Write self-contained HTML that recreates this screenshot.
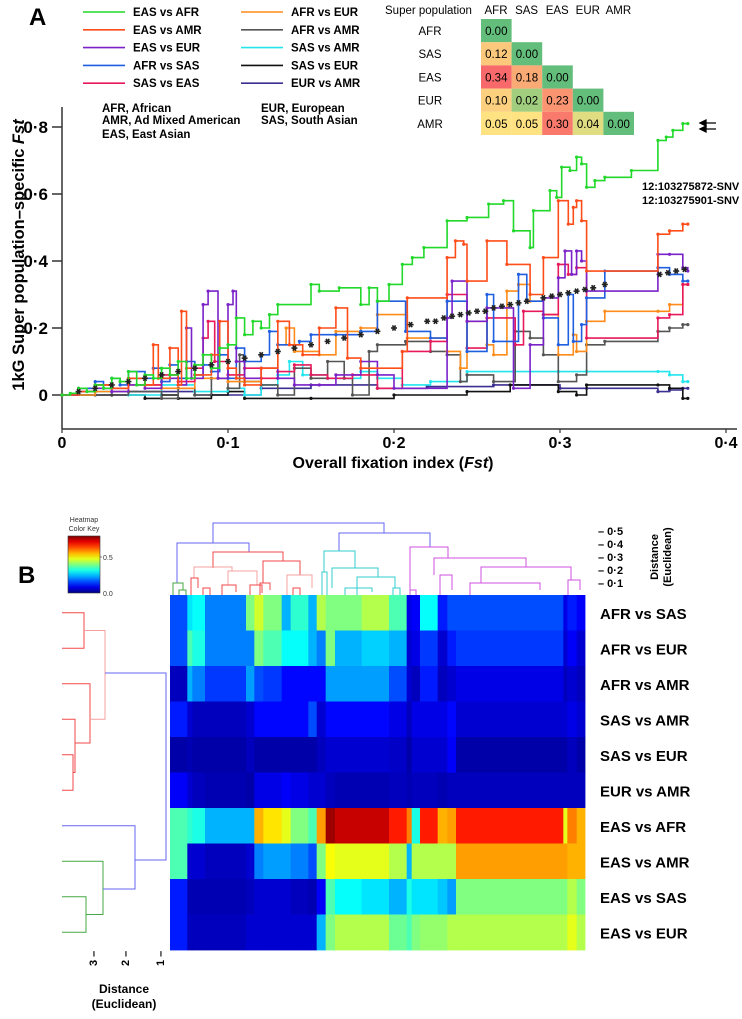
<!DOCTYPE html>
<html><head><meta charset="utf-8"><style>
html,body{margin:0;padding:0;background:#fff;}
svg{display:block;font-family:"Liberation Sans",Arial,sans-serif;}
.b{font-weight:bold;}
</style></head><body>
<svg id="fig" width="742" height="1019" viewBox="0 0 742 1019" xmlns="http://www.w3.org/2000/svg">
<rect width="742" height="1019" fill="#fff"/>
<text x="29" y="25" font-size="24" class="b">A</text>
<text x="18" y="583" font-size="24" class="b">B</text>
<g id="legend"></g>
<g id="abbr" font-size="11.5" class="b">
<text x="102" y="112">AFR, African</text>
<text x="102" y="124">AMR, Ad Mixed American</text>
<text x="102" y="138">EAS, East Asian</text>
<text x="261" y="112">EUR, European</text>
<text x="261" y="124">SAS, South Asian</text>
</g>
<g id="fsttable"></g>
<g id="plotA"></g>
<text transform="translate(24,255) rotate(-90)" text-anchor="middle" font-size="16.5" class="b">1kG Super population–specific <tspan font-style="italic">Fst</tspan></text>
<text x="393" y="468" text-anchor="middle" font-size="16" class="b">Overall fixation index (<tspan font-style="italic">Fst</tspan>)</text>
<text x="642" y="190" font-size="11" class="b">12:103275872-SNV</text>
<text x="642" y="204" font-size="11" class="b">12:103275901-SNV</text>
<g id="heat"></g>
<g id="dendTop"></g>
<g id="dendLeft"></g>
<g id="colorkey"></g>
</svg>
<script>
// ---------- Panel A data ----------
const legendNames = ["EAS vs AFR","EAS vs AMR","EAS vs EUR","AFR vs SAS","SAS vs EAS","AFR vs EUR","AFR vs AMR","SAS vs AMR","SAS vs EUR","EUR vs AMR"];
const legendColors = ["#22d82a","#ff4d1a","#7a22c8","#1f5fe0","#e8195a","#ff8c1a","#555555","#22e5ee","#111111","#3b2f91"];
const xTicks = [0,0.1,0.2,0.3,0.4];
const xTickLabels = ["0","0·1","0·2","0·3","0·4"];
const yTicks = [0,0.2,0.4,0.6,0.8];
const yTickLabels = ["0","0·2","0·4","0·6","0·8"];
const easAfr = [[0,0],[.005,.005],[.01,.02],[.015,.01],[.02,.03],[.025,.02],[.03,.05],[.035,.04],[.04,.07],[.045,.03],[.05,.06],[.055,.05],[.06,.08],[.065,.06],[.07,.10],[.075,.05],[.08,.09],[.085,.12],[.09,.08],[.095,.14],[.1,.15],[.105,.23],[.11,.18],[.115,.22],[.12,.2],[.125,.24],[.13,.27],[.15,.33],[.155,.31],[.167,.32],[.18,.27],[.185,.32],[.19,.28],[.197,.33],[.205,.39],[.211,.41],[.218,.44],[.232,.52],[.244,.53],[.257,.57],[.266,.58],[.272,.49],[.282,.44],[.284,.55],[.294,.61],[.298,.59],[.301,.68],[.306,.67],[.310,.71],[.313,.69],[.316,.62],[.321,.64],[.327,.65],[.343,.67],[.359,.76],[.364,.77],[.368,.79],[.374,.81],[.377,.81]];
const easAmr = [[0,0],[.01,.01],[.02,.03],[.03,.02],[.04,.05],[.05,.03],[.055,.15],[.058,.05],[.065,.14],[.07,.03],[.072,.25],[.075,.08],[.08,.06],[.09,.12],[.095,.22],[.1,.08],[.105,.05],[.11,.03],[.12,.08],[.13,.22],[.137,.15],[.145,.12],[.155,.2],[.165,.26],[.172,.11],[.18,.08],[.205,.13],[.208,.29],[.232,.41],[.237,.46],[.242,.45],[.244,.34],[.256,.46],[.268,.39],[.282,.30],[.29,.41],[.299,.58],[.305,.51],[.308,.56],[.310,.58],[.313,.52],[.316,.37],[.359,.48],[.366,.49],[.374,.51],[.377,.51]];
const easEur = [[0,0],[.01,.01],[.02,.02],[.03,.01],[.04,.03],[.05,.02],[.06,.05],[.07,.03],[.075,.2],[.078,.05],[.085,.27],[.088,.31],[.094,.05],[.1,.27],[.103,.31],[.105,.1],[.11,.05],[.12,.08],[.13,.05],[.14,.03],[.155,.03],[.165,.06],[.18,.1],[.19,.06],[.2,.02],[.232,.23],[.235,.34],[.244,.22],[.256,.26],[.272,.02],[.282,.15],[.29,.29],[.299,.35],[.303,.43],[.307,.36],[.310,.43],[.313,.40],[.316,.31],[.359,.42],[.366,.42],[.374,.38],[.377,.37]];
const afrSas = [[0,0],[.01,.02],[.02,.04],[.025,.02],[.03,.05],[.035,.03],[.04,.07],[.05,.05],[.055,.08],[.06,.04],[.065,.09],[.07,.05],[.075,.1],[.08,.06],[.085,.09],[.09,.07],[.095,.12],[.1,.05],[.105,.14],[.11,.1],[.12,.12],[.125,.19],[.13,.15],[.143,.16],[.15,.18],[.165,.18],[.18,.19],[.19,.28],[.207,.19],[.222,.17],[.232,.28],[.244,.13],[.256,.30],[.26,.16],[.275,.36],[.28,.28],[.29,.23],[.299,.15],[.305,.30],[.308,.16],[.313,.21],[.316,.29],[.327,.37],[.359,.38],[.366,.36],[.374,.34],[.377,.34]];
const sasEas = [[0,0],[.01,.02],[.02,.03],[.03,.02],[.04,.05],[.05,.03],[.06,.06],[.07,.04],[.08,.08],[.085,.17],[.088,.22],[.092,.1],[.1,.06],[.11,.08],[.12,.05],[.13,.07],[.14,.09],[.15,.06],[.16,.05],[.175,.06],[.19,.02],[.205,.13],[.222,.16],[.232,.30],[.244,.14],[.256,.23],[.273,.15],[.278,.25],[.29,.24],[.299,.39],[.305,.36],[.310,.38],[.316,.17],[.359,.23],[.366,.24],[.374,.33],[.377,.33]];
const afrEur = [[0,0],[.02,.01],[.04,.03],[.06,.02],[.08,.05],[.1,.04],[.12,.08],[.13,.15],[.135,.2],[.14,.13],[.155,.12],[.165,.19],[.18,.2],[.19,.24],[.208,.17],[.232,.13],[.24,.08],[.244,.22],[.256,.15],[.26,.12],[.268,.31],[.275,.33],[.282,.28],[.29,.24],[.299,.12],[.308,.18],[.31,.13],[.316,.22],[.327,.25],[.359,.25],[.366,.27],[.374,.33],[.377,.33]];
const afrAmr = [[0,0],[.02,0],[.04,.01],[.06,-.01],[.07,.02],[.08,0],[.09,.05],[.1,.02],[.107,.12],[.11,.04],[.12,.03],[.13,0],[.14,.08],[.15,.05],[.16,.1],[.17,.05],[.175,0],[.185,.13],[.19,.15],[.207,.16],[.222,.13],[.232,.12],[.24,.04],[.244,.06],[.26,.04],[.273,.19],[.282,.17],[.29,.12],[.299,.04],[.31,.06],[.316,.15],[.327,.16],[.359,.19],[.366,.2],[.374,.21],[.377,.21]];
const sasAmr = [[0,0],[.02,.01],[.04,0],[.06,.03],[.08,.01],[.1,.02],[.11,0],[.12,.03],[.13,.06],[.137,.1],[.145,.06],[.16,.05],[.18,.07],[.19,.05],[.205,.03],[.222,.04],[.244,.07],[.299,.07],[.316,.07],[.359,.07],[.366,.06],[.374,.04],[.377,.04]];
const sasEur = [[0,0],[.03,0],[.05,-.01],[.06,0],[.07,-.01],[.09,0],[.1,.01],[.11,-.01],[.15,-.01],[.2,0],[.244,.01],[.27,.03],[.299,.01],[.31,0],[.316,.03],[.359,.03],[.366,.02],[.374,-.01],[.377,-.01]];
const eurAmr = [[0,0],[.04,.01],[.08,0],[.12,.02],[.15,.03],[.19,.02],[.22,.025],[.26,.03],[.3,.02],[.316,.02],[.359,.01],[.366,.015],[.374,.02],[.377,.02]];
const starX = [.01,.02,.03,.04,.05,.06,.07,.08,.09,.1,.11,.12,.13,.14,.15,.16,.17,.18,.19,.2,.21,.22,.225,.23,.235,.24,.245,.25,.255,.26,.265,.27,.275,.28,.29,.295,.3,.305,.31,.315,.32,.327,.36,.365,.37,.375];
const starY = [.01,.02,.03,.04,.05,.06,.07,.08,.09,.1,.11,.12,.13,.14,.15,.16,.17,.18,.19,.2,.21,.22,.22,.23,.235,.24,.245,.25,.25,.26,.265,.27,.275,.28,.29,.295,.3,.305,.31,.315,.32,.33,.36,.365,.37,.375];
const fstPops = ["AFR","SAS","EAS","EUR","AMR"];
const fstMatrix = [[0.00],[0.12,0.00],[0.34,0.18,0.00],[0.10,0.02,0.23,0.00],[0.05,0.05,0.30,0.04,0.00]];
// ---------- Panel B data ----------
const rowNames = ["AFR vs SAS","AFR vs EUR","AFR vs AMR","SAS vs AMR","SAS vs EUR","EUR vs AMR","EAS vs AFR","EAS vs AMR","EAS vs SAS","EAS vs EUR"];
const colWeights = [52,15,38,123,25,27,55,27,53,25,27,28,80,82,53,15,25,53,29,26,322,12,28,25];
const heatRow1 = [.2,.35,.38,.25,.5,.58,.5,.3,.42,.3,.55,.5,.5,.55,.45,.1,.12,.38,.15,.2,.2,.1,.15,.12];
const heatRow2 = [.2,.45,.4,.25,.25,.5,.45,.38,.38,.3,.25,.5,.3,.33,.3,.08,.1,.18,.08,.15,.18,.08,.12,.08];
const heatRow3 = [.06,.3,.25,.18,.28,.2,.18,.13,.13,.13,.13,.28,.28,.28,.2,.08,.06,.15,.06,.08,.1,.06,.08,.06];
const heatRow4 = [.15,.08,.06,.06,.08,.13,.13,.13,.13,.2,.08,.13,.13,.13,.1,.06,.1,.1,.1,.13,.08,.08,.1,.08];
const heatRow5 = [.04,.05,.04,.04,.06,.04,.04,.04,.04,.04,.06,.08,.08,.08,.07,.04,.08,.08,.08,.12,.04,.04,.06,.04];
const heatRow6 = [.12,.08,.06,.05,.04,.1,.1,.12,.1,.08,.08,.06,.05,.05,.06,.05,.06,.06,.05,.06,.06,.06,.06,.06];
const heatRow7 = [.45,.42,.4,.3,.3,.7,.65,.6,.5,.45,.72,.97,.93,.93,.85,.75,.4,.85,.7,.72,.85,.6,.75,.7];
const heatRow8 = [.45,.08,.08,.06,.08,.25,.28,.28,.25,.2,.5,.62,.6,.6,.55,.3,.55,.55,.55,.55,.72,.72,.7,.7];
const heatRow9 = [.15,.05,.05,.05,.06,.08,.08,.08,.06,.05,.12,.45,.38,.35,.3,.4,.35,.35,.32,.28,.5,.5,.55,.5];
const heatRow10 = [.15,.06,.06,.06,.08,.08,.08,.08,.08,.08,.3,.5,.55,.55,.48,.45,.5,.52,.52,.55,.55,.55,.6,.55];

const NS="http://www.w3.org/2000/svg";
function mk(tag, attrs, parent){const e=document.createElementNS(NS,tag);for(const k in attrs)e.setAttribute(k,attrs[k]);parent.appendChild(e);return e;}

// ---- legend ----
const lg=document.getElementById('legend');
legendNames.forEach((n,i)=>{
  const col=Math.floor(i/5), row=i%5;
  const x0 = col? 241:83, y=12+row*17.8;
  const ln=mk('line',{x1:x0,y1:y,x2:x0+42,y2:y,stroke:legendColors[i],'stroke-width':1.6},lg);
  
  
  const t=mk('text',{x:x0+50,y:y+4,'font-size':11.5,'font-weight':'bold'},lg);
  t.textContent=n;
  
  
});

// ---- table ----
const tb=document.getElementById('fsttable');
function cellColor(v){
  const stops=[[0,[99,190,123]],[0.05,[255,227,131]],[0.12,[251,200,124]],[0.20,[250,160,115]],[0.34,[248,105,107]]];
  for(let i=1;i<stops.length;i++){if(v<=stops[i][0]){const a=stops[i-1],b=stops[i],t=(v-a[0])/(b[0]-a[0]);return 'rgb('+a[1].map((c,k)=>Math.round(c+(b[1][k]-c)*t)).join(',')+')';}}
  return 'rgb(248,105,107)';
}
{
  const h=mk('text',{x:385,y:14,'font-size':11.5},tb); h.textContent="Super population";
   
  fstPops.forEach((p,j)=>{
    const t=mk('text',{x:496+j*30.6,y:14,'font-size':11.5,'text-anchor':'middle'},tb);t.textContent=p;
     
  });
  fstMatrix.forEach((r,i)=>{
    const y=19+i*23.2;
    const t=mk('text',{x:430,y:y+16,'font-size':11.5,'text-anchor':'middle'},tb);t.textContent=fstPops[i];
     
    r.forEach((v,j)=>{
      const c=mk('rect',{x:481+j*30.6,y:y,width:30.6,height:23.2,fill:cellColor(v)},tb);
       
      const tt=mk('text',{x:496.3+j*30.6,y:y+16,'font-size':11.5,'text-anchor':'middle'},tb);tt.textContent=v.toFixed(2);
       
    });
  });
}

// ---- line chart ----
const pa=document.getElementById('plotA');
const X=v=>62+v*1660, Y=v=>395-v*335;
{
  const ya=mk('line',{x1:62,y1:107,x2:62,y2:429,stroke:'#333','stroke-width':1.5},pa);
   
  const xa=mk('line',{x1:62,y1:429,x2:737,y2:429,stroke:'#333','stroke-width':1.5},pa);
   
  yTicks.forEach((v,i)=>{
    mk('line',{x1:52,y1:Y(v),x2:62,y2:Y(v),stroke:'#333','stroke-width':1.5},pa);
    const t=mk('text',{x:48,y:Y(v)+6,'font-size':17,'font-weight':'bold','text-anchor':'end'},pa);t.textContent=yTickLabels[i];
     
  });
  xTicks.forEach((v,i)=>{
    mk('line',{x1:X(v),y1:429,x2:X(v),y2:433,stroke:'#333','stroke-width':1.2},pa);
    const t=mk('text',{x:X(v),y:448,'font-size':16,'font-weight':'bold','text-anchor':'middle'},pa);t.textContent=xTickLabels[i];
     
  });
}
const allSeries=[easAfr,easAmr,easEur,afrSas,sasEas,afrEur,afrAmr,sasAmr,sasEur,eurAmr];
const drawOrder=[9,8,7,6,5,4,3,2,1,0];
drawOrder.forEach(si=>{
  const s=allSeries[si];
  let d='M'+X(s[0][0]).toFixed(1)+' '+Y(s[0][1]).toFixed(1);
  for(let i=1;i<s.length;i++){d+=' H'+X(s[i][0]).toFixed(1)+' V'+Y(s[i][1]).toFixed(1);}
  const p=mk('path',{d:d,fill:'none',stroke:legendColors[si],'stroke-width':1.6},pa);
  
  
  s.forEach(pt=>{
    const c=mk('circle',{cx:X(pt[0]),cy:Y(pt[1]),r:1.6,fill:legendColors[si]},pa);
     
  });
});
starX.forEach((v,i)=>{
  const cx=X(v), cy=Y(starY[i]);
  const g=mk('g',{stroke:'#222','stroke-width':1.6},pa);
   
  mk('line',{x1:cx-3,y1:cy,x2:cx+3,y2:cy},g);
  mk('line',{x1:cx-1.5,y1:cy-2.6,x2:cx+1.5,y2:cy+2.6},g);
  mk('line',{x1:cx-1.5,y1:cy+2.6,x2:cx+1.5,y2:cy-2.6},g);
});
// arrows
[123,129].forEach(yy=>{
  const a=mk('path',{d:`M700 ${yy} l6 -3 v6 z M705 ${yy} H716`,stroke:'#000','stroke-width':1.3,fill:'#000'},pa);
   
});

// ---- heatmap ----
function jet(v){const c=x=>Math.round(255*Math.max(0,Math.min(1,x)));return `rgb(${c(1.5-Math.abs(4*v-3))},${c(1.5-Math.abs(4*v-2))},${c(1.5-Math.abs(4*v-1))})`;}
const hm=document.getElementById('heat');
const heatRows=[heatRow1,heatRow2,heatRow3,heatRow4,heatRow5,heatRow6,heatRow7,heatRow8,heatRow9,heatRow10];
const HX0=170,HX1=585,HY0=595,RH=35.5;
const totalW=colWeights.reduce((a,b)=>a+b,0);
heatRows.forEach((row,ri)=>{
  let acc=0;
  row.forEach((v,ci)=>{
    const x0=HX0+acc/totalW*(HX1-HX0); acc+=colWeights[ci];
    const x1=HX0+acc/totalW*(HX1-HX0);
    const r=mk('rect',{x:x0.toFixed(2),y:HY0+ri*RH,width:(x1-x0+0.4).toFixed(2),height:RH+0.4,fill:jet(v)},hm);
     
  });
  const t=mk('text',{x:600,y:HY0+ri*RH+RH/2+6,'font-size':15,'font-weight':'bold'},hm);t.textContent=rowNames[ri];
   
});

// ---- dendrograms ----
function U(g,xl,xr,yt,ybl,ybr,col){
  mk('path',{d:`M${xl} ${ybl} V${yt} H${xr} V${ybr}`,fill:'none',stroke:col,'stroke-width':1},g);
}
const dt=document.getElementById('dendTop');
const BL='#6666f0',RD='#f04848',PK='#f7a0a0',GR='#46a846',CY='#33cccc',MG='#d050e0';
U(dt,213,384,523,543,533,BL);
U(dt,177,249,543,583,552,BL);
U(dt,173,183,583,595,590,GR);U(dt,179,186,590,595,595,GR);
U(dt,213,283,552,568,561,RD);
U(dt,194,232,567,578,571,PK);U(dt,191,198,578,595,588,RD);U(dt,228,257,571,585,585,PK);
U(dt,222,236,585,595,592,RD);U(dt,250,262,585,595,593,RD);U(dt,203,210,588,595,595,RD);
U(dt,263,300,561,583,575,RD);U(dt,260,270,583,595,590,RD);U(dt,287,312,575,595,588,PK);U(dt,293,300,588,595,595,RD);
U(dt,339,384,533,551,533,BL);
U(dt,324,355,551,572,568,CY);U(dt,322,327,572,595,595,CY);
U(dt,332,378,568,588,577,CY);U(dt,345,372,588,595,592,CY);U(dt,357,395,577,595,588,CY);U(dt,393,400,588,595,595,CY);
U(dt,384,430,533,533,547,BL);
U(dt,410,448,547,590,558,MG);U(dt,410,416,590,595,595,MG);
U(dt,434,526,558,575,567,MG);U(dt,440,452,575,595,590,MG);
U(dt,481,571,567,583,580,MG);U(dt,470,540,583,595,590,MG);U(dt,568,580,580,595,590,MG);
const yTickTop=["0·5","0·4","0·3","0·2","0·1"];
yTickTop.forEach((l,i)=>{
  const t=mk('text',{x:598,y:535+i*13,'font-size':11,'font-weight':'bold'},dt);t.textContent='– '+l;
   
});
{
  const t=mk('text',{transform:'translate(658,557) rotate(-90)','text-anchor':'middle','font-size':11,'font-weight':'bold'},dt);t.textContent='Distance';
   
  const t2=mk('text',{transform:'translate(671,557) rotate(-90)','text-anchor':'middle','font-size':11,'font-weight':'bold'},dt);t2.textContent='(Euclidean)';
   
}
const dl=document.getElementById('dendLeft');
function UL(g,xl,y1,y2,x1,x2,col){mk('path',{d:`M${x1} ${y1} H${xl} V${y2} H${x2}`,fill:'none',stroke:col,'stroke-width':1},g);}
const rc=i=>HY0+i*RH+RH/2;
UL(dl,84,rc(0),rc(1),62,62,RD);
UL(dl,73,rc(4),rc(5),62,62,RD);
UL(dl,75,rc(3),(rc(4)+rc(5))/2,62,73,RD);
UL(dl,90,rc(2),(rc(3)+rc(4))/2+6,62,75,RD);
UL(dl,105,(rc(0)+rc(1))/2,(rc(2)+rc(4))/2,84,90,PK);
UL(dl,86,rc(8),rc(9),62,62,GR);
UL(dl,103,rc(7),(rc(8)+rc(9))/2,62,86,GR);
UL(dl,135,rc(6),(rc(7)+rc(8))/2+10,62,103,BL);
UL(dl,166,673,860,105,135,BL);
[[93,"3"],[125,"2"],[160,"1"]].forEach(a=>{
  const t=mk('text',{transform:`translate(${a[0]+4},966) rotate(-90)`,'font-size':11,'font-weight':'bold'},dl);t.textContent=a[1]+' –';
   
});
{
  const t=mk('text',{x:124,y:993,'font-size':12,'font-weight':'bold','text-anchor':'middle'},dl);t.textContent='Distance';
   
  const t2=mk('text',{x:124,y:1008,'font-size':12,'font-weight':'bold','text-anchor':'middle'},dl);t2.textContent='(Euclidean)';
   
}
// ---- color key ----
const ck=document.getElementById('colorkey');
{
  const defs=mk('defs',{},ck);
  const lgd=mk('linearGradient',{id:'jetg',x1:0,y1:1,x2:0,y2:0},defs);
  for(let i=0;i<=10;i++)mk('stop',{offset:i/10,'stop-color':jet(i/10)},lgd);
  const r=mk('rect',{x:68,y:536,width:32,height:57,fill:'url(#jetg)',stroke:'#333','stroke-width':0.6},ck);
   
  const a=mk('text',{x:84,y:522,'font-size':7,'text-anchor':'middle',fill:'#333'},ck);a.textContent='Heatmap';
  const b=mk('text',{x:84,y:531,'font-size':7,'text-anchor':'middle',fill:'#333'},ck);b.textContent='Color Key';
  const c=mk('text',{x:103,y:560,'font-size':7,fill:'#333'},ck);c.textContent='0.5';
  const d=mk('text',{x:103,y:596,'font-size':7,fill:'#333'},ck);d.textContent='0.0';
  mk('line',{x1:100,y1:557,x2:102,y2:557,stroke:'#333','stroke-width':0.6},ck);
}
</script>
</body></html>
